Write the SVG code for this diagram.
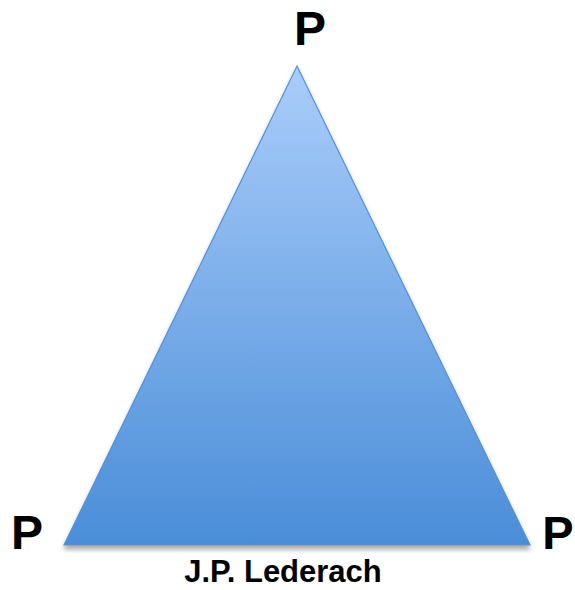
<svg xmlns="http://www.w3.org/2000/svg" width="575" height="590" viewBox="0 0 575 590">
<defs>
<linearGradient id="g" x1="0" y1="0" x2="0" y2="1">
<stop offset="0" stop-color="#AACDFA"/>
<stop offset="1" stop-color="#4A8DD8"/>
</linearGradient>
<filter id="sh" x="-10%" y="-10%" width="120%" height="130%">
<feGaussianBlur in="SourceAlpha" stdDeviation="2.5"/>
<feOffset dx="0" dy="4" result="b"/>
<feComponentTransfer><feFuncA type="linear" slope="0.35"/></feComponentTransfer>
<feMerge><feMergeNode/><feMergeNode in="SourceGraphic"/></feMerge>
</filter>
</defs>
<style>
.lbl{font-family:"Liberation Sans",Arial,sans-serif;font-weight:bold;fill:#000;text-anchor:middle}
</style>
<rect width="575" height="590" fill="#fff"/>
<g id="triangle">
<polygon points="297,66 530,545 64,545" fill="url(#g)" stroke="#5A8ED0" stroke-width="1.2" filter="url(#sh)"/>
</g>
<g id="p-top"><text class="lbl" x="310" y="45" font-size="48">P</text></g>
<g id="p-left"><text class="lbl" x="27" y="549" font-size="48">P</text></g>
<g id="p-right"><text class="lbl" x="558" y="549" font-size="47">P</text></g>
<g id="author"><text class="lbl" x="283" y="582" font-size="31">J.P. Lederach</text></g>
<g id="connectors"></g>
</svg>
